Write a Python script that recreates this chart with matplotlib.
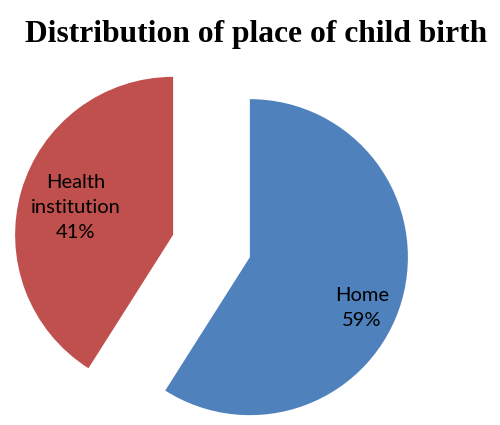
import matplotlib
matplotlib.use('Agg')
import numpy as np
import matplotlib.pyplot as plt

labels = ["Home", "Health\ninstitution"]
shares = [59, 41]
colors = ["#4F81BD", "#C0504D"]

# label placement inside each wedge (angle in degrees, distance in radii from wedge centre)
label_angle = [-24.5, 164.4]
label_dist = [0.78, 0.64]

R = 158.0  # pie radius in pixels
W, H = 500, 425
cx, cy = 211.5, 246.0  # pie centre in pixels (from top-left)

fig = plt.figure(figsize=(5, 4.25), dpi=100)
ax = fig.add_axes([0, 0, 1, 1])

wedges, _ = ax.pie(shares, colors=colors, startangle=90, counterclock=False,
                   explode=[0.253, 0.253], radius=1,
                   wedgeprops=dict(linewidth=0))

ax.set_xlim(-cx / R, (W - cx) / R)
ax.set_ylim(-(H - cy) / R, cy / R)
ax.set_aspect('auto')
ax.axis('off')

for w, lab, s, a, d in zip(wedges, labels, shares, label_angle, label_dist):
    x0, y0 = w.center
    t = np.deg2rad(a)
    ax.text(x0 + d * np.cos(t), y0 + d * np.sin(t), f"{lab}\n{s}%",
            ha='center', va='center', fontsize=14.5, family='Lato',
            linespacing=1.55, color='black')

fig.text(0.512, 1 - 42 / H, "Distribution of place of child birth",
         ha='center', va='baseline', fontsize=22.7, fontweight='bold',
         family='Liberation Serif')

fig.savefig('out.png', dpi=100)
